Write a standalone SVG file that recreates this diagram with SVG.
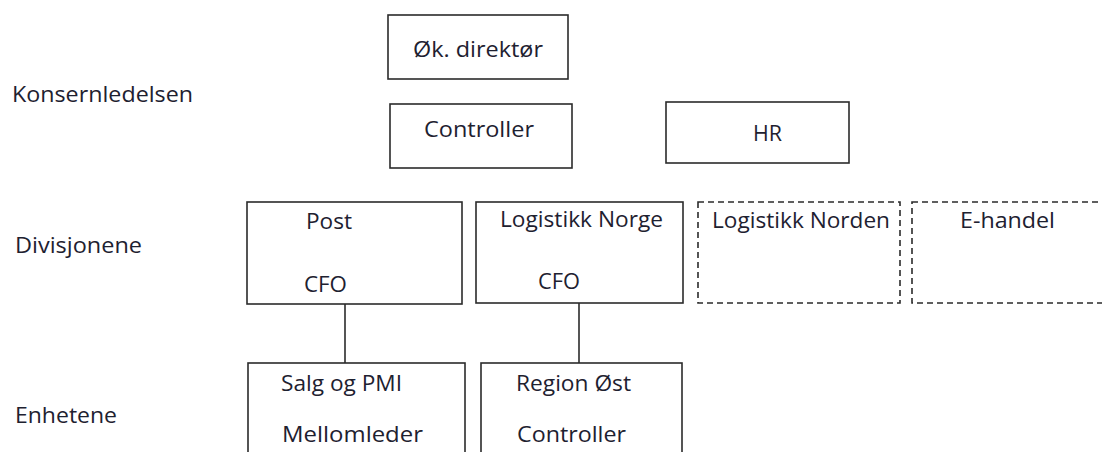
<svg xmlns="http://www.w3.org/2000/svg" width="1102" height="452" viewBox="0 0 1102 452">
  <style>
    .box { fill: #ffffff; stroke: #2b2b2b; stroke-width: 1.6; }
    .dashed { fill: #ffffff; stroke: #2b2b2b; stroke-width: 1.6; stroke-dasharray: 6 4; }
    .link { fill: none; stroke: #2b2b2b; stroke-width: 1.6; }
    text { font-family: "Open Sans", "Noto Sans", "Liberation Sans", sans-serif; font-size: 22px; fill: #1e2130; }
  </style>
  <rect width="1102" height="452" fill="#ffffff"/>

  <!-- level labels -->
  <g id="level-labels">
    <text x="12" y="102" textLength="181" lengthAdjust="spacingAndGlyphs">Konsernledelsen</text>
    <text x="15" y="253" textLength="127" lengthAdjust="spacingAndGlyphs">Divisjonene</text>
    <text x="15" y="423" textLength="102" lengthAdjust="spacingAndGlyphs">Enhetene</text>
  </g>

  <!-- connectors -->
  <g id="connectors">
    <line class="link" x1="345" y1="304" x2="345" y2="363"/>
    <line class="link" x1="579" y1="303" x2="579" y2="363"/>
  </g>

  <!-- group management -->
  <g id="okonomidirektor">
    <rect class="box" x="388" y="15" width="180" height="64"/>
    <text x="413" y="57" textLength="130" lengthAdjust="spacingAndGlyphs">Øk. direktør</text>
  </g>
  <g id="controller">
    <rect class="box" x="390" y="104" width="182" height="64"/>
    <text x="424" y="137" textLength="110" lengthAdjust="spacingAndGlyphs">Controller</text>
  </g>
  <g id="hr">
    <rect class="box" x="666" y="102" width="183" height="61"/>
    <text x="753" y="141" textLength="29" lengthAdjust="spacingAndGlyphs">HR</text>
  </g>

  <!-- divisions -->
  <g id="post">
    <rect class="box" x="247" y="202" width="215" height="102"/>
    <text x="306" y="229" textLength="46" lengthAdjust="spacingAndGlyphs">Post</text>
    <text x="304" y="292" textLength="43" lengthAdjust="spacingAndGlyphs">CFO</text>
  </g>
  <g id="logistikk-norge">
    <rect class="box" x="476" y="202" width="207" height="101"/>
    <text x="500" y="227" textLength="163" lengthAdjust="spacingAndGlyphs">Logistikk Norge</text>
    <text x="538" y="289" textLength="42" lengthAdjust="spacingAndGlyphs">CFO</text>
  </g>
  <g id="logistikk-norden">
    <rect class="dashed" x="698" y="202" width="202" height="101"/>
    <text x="712" y="228" textLength="178" lengthAdjust="spacingAndGlyphs">Logistikk Norden</text>
  </g>
  <g id="e-handel">
    <rect class="dashed" x="912" y="202" width="200" height="101"/>
    <text x="960" y="228" textLength="95" lengthAdjust="spacingAndGlyphs">E-handel</text>
  </g>

  <!-- units -->
  <g id="salg-og-pmi">
    <rect class="box" x="248" y="363" width="217" height="100"/>
    <text x="281" y="391" textLength="121" lengthAdjust="spacingAndGlyphs">Salg og PMI</text>
    <text x="282" y="442" textLength="141" lengthAdjust="spacingAndGlyphs">Mellomleder</text>
  </g>
  <g id="region-ost">
    <rect class="box" x="481" y="363" width="201" height="100"/>
    <text x="516" y="391" textLength="115" lengthAdjust="spacingAndGlyphs">Region Øst</text>
    <text x="517" y="442" textLength="109" lengthAdjust="spacingAndGlyphs">Controller</text>
  </g>
</svg>
